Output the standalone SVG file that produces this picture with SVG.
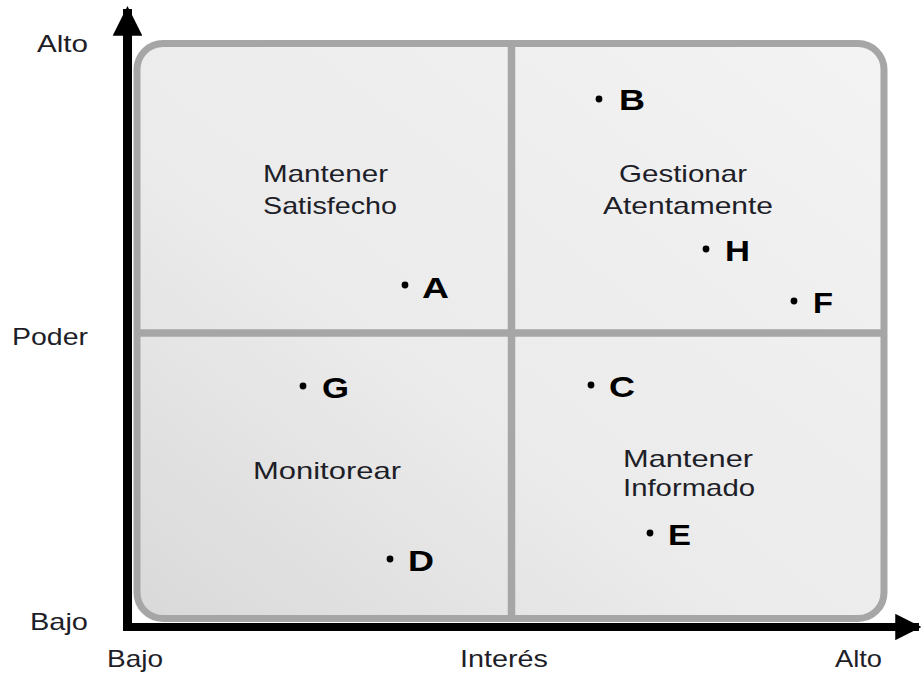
<svg xmlns="http://www.w3.org/2000/svg" width="921" height="675" viewBox="0 0 921 675">
<defs>
<linearGradient id="bg" x1="1" y1="0" x2="0" y2="1">
<stop offset="0" stop-color="#f3f3f3"/>
<stop offset="0.6" stop-color="#ebebeb"/>
<stop offset="1" stop-color="#d9d9d9"/>
</linearGradient>
<marker id="ah" viewBox="0 0 10 10" refX="9" refY="5" markerWidth="3.3" markerHeight="3.3" orient="auto" markerUnits="strokeWidth">
<path d="M0,0 L10,5 L0,10 Z" fill="#000"/>
</marker>
<style>
.lbl{font-family:"Liberation Sans",Arial,sans-serif;font-size:24px;fill:#1e1e28}
.pt{font-family:"Liberation Sans",Arial,sans-serif;font-size:30px;font-weight:bold;fill:#000}
.dot{fill:#000}
.div{stroke:#a6a6a6;stroke-width:7.5;fill:none}
</style>
</defs>
<rect width="921" height="675" fill="#fff"/>
<g id="matrix">
<rect x="137" y="43.5" width="747" height="575" rx="26" ry="26" fill="url(#bg)" stroke="#a6a6a6" stroke-width="7"/>
<line class="div" x1="511.5" y1="45" x2="511.5" y2="617"/>
<line class="div" x1="139" y1="333" x2="882" y2="333"/>
</g>
<g id="connectors">
<line x1="127.5" y1="631" x2="127.5" y2="9" stroke="#000" stroke-width="9" marker-end="url(#ah)"/>
<line x1="123" y1="627" x2="919" y2="627" stroke="#000" stroke-width="8" marker-end="url(#ah)"/>
</g>
<g id="axis-labels">
<text class="lbl" x="37" y="52" textLength="51" lengthAdjust="spacingAndGlyphs">Alto</text>
<text class="lbl" x="12" y="345" textLength="76" lengthAdjust="spacingAndGlyphs">Poder</text>
<text class="lbl" x="30" y="630" textLength="58" lengthAdjust="spacingAndGlyphs">Bajo</text>
<text class="lbl" x="107" y="667" textLength="56" lengthAdjust="spacingAndGlyphs">Bajo</text>
<text class="lbl" x="460" y="667" textLength="88" lengthAdjust="spacingAndGlyphs">Interés</text>
<text class="lbl" x="835" y="667" textLength="47" lengthAdjust="spacingAndGlyphs">Alto</text>
</g>
<g id="q-satisfecho">
<text class="lbl" x="263" y="182" textLength="125" lengthAdjust="spacingAndGlyphs">Mantener</text>
<text class="lbl" x="263" y="214" textLength="134" lengthAdjust="spacingAndGlyphs">Satisfecho</text>
</g>
<g id="q-gestionar">
<text class="lbl" x="619" y="182" textLength="128" lengthAdjust="spacingAndGlyphs">Gestionar</text>
<text class="lbl" x="603" y="214" textLength="170" lengthAdjust="spacingAndGlyphs">Atentamente</text>
</g>
<g id="q-monitorear">
<text class="lbl" x="253" y="479" textLength="148" lengthAdjust="spacingAndGlyphs">Monitorear</text>
</g>
<g id="q-informado">
<text class="lbl" x="623" y="467" textLength="130" lengthAdjust="spacingAndGlyphs">Mantener</text>
<text class="lbl" x="623" y="496" textLength="132" lengthAdjust="spacingAndGlyphs">Informado</text>
</g>
<g id="point-A"><circle class="dot" cx="405" cy="285" r="3.4"/><text class="pt" x="422" y="298" textLength="27" lengthAdjust="spacingAndGlyphs">A</text></g>
<g id="point-B"><circle class="dot" cx="599" cy="99" r="3.4"/><text class="pt" x="619" y="110" textLength="26" lengthAdjust="spacingAndGlyphs">B</text></g>
<g id="point-H"><circle class="dot" cx="706" cy="249" r="3.4"/><text class="pt" x="725" y="261" textLength="25" lengthAdjust="spacingAndGlyphs">H</text></g>
<g id="point-F"><circle class="dot" cx="794" cy="301" r="3.4"/><text class="pt" x="813" y="313" textLength="20" lengthAdjust="spacingAndGlyphs">F</text></g>
<g id="point-G"><circle class="dot" cx="303" cy="386" r="3.4"/><text class="pt" x="322" y="398" textLength="27" lengthAdjust="spacingAndGlyphs">G</text></g>
<g id="point-C"><circle class="dot" cx="591" cy="385" r="3.4"/><text class="pt" x="609" y="397" textLength="26" lengthAdjust="spacingAndGlyphs">C</text></g>
<g id="point-E"><circle class="dot" cx="650" cy="533" r="3.4"/><text class="pt" x="668" y="545" textLength="23" lengthAdjust="spacingAndGlyphs">E</text></g>
<g id="point-D"><circle class="dot" cx="390" cy="559" r="3.4"/><text class="pt" x="408" y="571" textLength="26" lengthAdjust="spacingAndGlyphs">D</text></g>
</svg>
